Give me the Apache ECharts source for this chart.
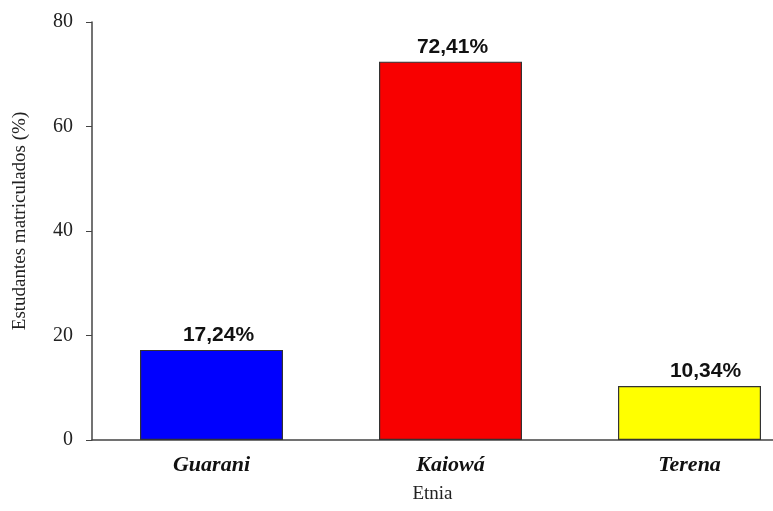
<!DOCTYPE html>
<html>
<head>
<meta charset="utf-8">
<script src="https://cdn.jsdelivr.net/npm/echarts@6/dist/echarts.min.js"></script>
<style>
  html, body { margin: 0; padding: 0; background: #fff; }
  #chart { width: 773px; height: 511px; }
</style>
</head>
<body>
<div id="chart"></div>
<script>
var categories = ['Guarani', 'Kaiowá', 'Terena'];
var values = [17.24, 72.41, 10.34];
var valueLabels = ['17,24%', '72,41%', '10,34%'];
var barColors = ['#0000ff', '#f80000', '#ffff00'];
var yTicks = [0, 20, 40, 60, 80];
// labels sit a little right of the bar centre in the original
var labelShift = [7, 2, 16];

var myChart = echarts.init(document.getElementById('chart'));

var seriesData = values.map(function (v, i) {
    return {
        value: v,
        itemStyle: { color: barColors[i] },
        label: { offset: [labelShift[i], 0] }
    };
});

var option = {
    animation: false,
    grid: {
        left: 92,
        top: 22,
        width: 717,
        bottom: 71,
        outerBoundsMode: 'none',
        containLabel: false
    },
    xAxis: {
        type: 'category',
        data: categories,
        name: 'Etnia',
        nameLocation: 'middle',
        nameGap: 45,
        nameTextStyle: {
            fontFamily: 'Liberation Serif',
            fontSize: 19,
            color: '#222',
            padding: [0, 36, 0, 0]
        },
        axisLine: { lineStyle: { color: '#444', width: 1.5 } },
        axisTick: { alignWithLabel: true, length: 5, lineStyle: { color: '#444' } },
        axisLabel: {
            fontFamily: 'Liberation Serif',
            fontStyle: 'italic',
            fontWeight: 'bold',
            fontSize: 22,
            color: '#111',
            margin: 14
        }
    },
    yAxis: {
        type: 'value',
        min: 0,
        max: 80,
        interval: 20,
        name: 'Estudantes matriculados (%)',
        nameLocation: 'middle',
        nameGap: 62,
        nameTextStyle: {
            fontFamily: 'Liberation Serif',
            fontSize: 19,
            color: '#222',
            padding: [0, 0, 0, 20]
        },
        axisLine: { show: true, lineStyle: { color: '#444', width: 1.5 } },
        axisTick: { show: true, length: 6, lineStyle: { color: '#444' } },
        splitLine: { show: false },
        axisLabel: {
            fontFamily: 'Liberation Serif',
            fontSize: 20,
            color: '#222',
            margin: 19,
            formatter: function (v) {
                return yTicks.indexOf(v) >= 0 ? String(v) : '';
            }
        }
    },
    series: [
        {
            type: 'bar',
            data: seriesData,
            barWidth: 143,
            itemStyle: { borderColor: '#333', borderWidth: 1.2 },
            label: {
                show: true,
                position: 'top',
                distance: 4,
                fontFamily: 'Liberation Sans',
                fontWeight: 'bold',
                fontSize: 21,
                color: '#111',
                formatter: function (p) {
                    return valueLabels[p.dataIndex];
                }
            }
        }
    ]
};
myChart.setOption(option);
</script>
</body>
</html>
